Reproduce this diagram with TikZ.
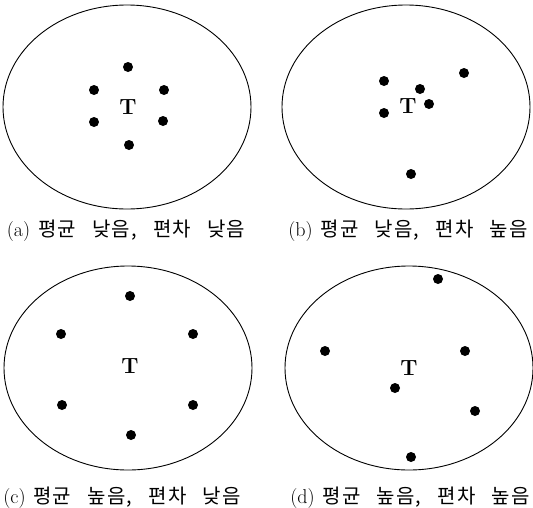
\documentclass[tikz,border=0pt]{standalone}
\usepackage{fontspec}
\newfontfamily\krfont[LetterSpace=5, WordSpace=3]{Noto Sans CJK KR}
\usetikzlibrary{positioning}
\tikzset{
  shot/.style={circle, fill=black, inner sep=0pt, minimum size=10pt},
  tmark/.style={font=\fontsize{22}{22}\selectfont\bfseries, inner sep=0pt},
  subcap/.style={font=\fontsize{20}{20}\selectfont, inner sep=0pt},
}
\newcommand{\board}[2]{%
  \draw[line width=0.9pt] (#1,#2) ellipse [x radius=124pt, y radius=102pt];
}

\begin{document}
\begin{tikzpicture}[x=1pt, y=-1pt]
  \useasboundingbox (0,0) rectangle (533,507);

  % (a) low mean, low spread
  \board{127}{107}
  \node[tmark] (ta) at (128,107) {T};
  \foreach \x/\y [count=\i] in {128/67, 94/90, 164/90, 94/122, 163/121, 129/145}
    \node[shot] (a\i) at (\x,\y) {};
  \node[subcap] (capa) at (126,231) {(a)\hspace{8pt}{\krfont 평균 낮음, 편차 낮음}};

  % (b) low mean, high spread
  \board{406}{107}
  \node[tmark] (tb) at (408,106) {T};
  \foreach \x/\y [count=\i] in {384/81, 420/89, 464/73, 384/113, 429/104, 411/174}
    \node[shot] (b\i) at (\x,\y) {};
  \node[subcap] (capb) at (408,231) {(b)\hspace{8pt}{\krfont 평균 낮음, 편차 높음}};

  % (c) high mean, low spread
  \board{128}{368}
  \node[tmark] (tc) at (130,366) {T};
  \foreach \x/\y [count=\i] in {130/296, 61/334, 193/334, 62/405, 193/405, 131/435}
    \node[shot] (c\i) at (\x,\y) {};
  \node[subcap] (capc) at (122,498) {(c)\hspace{8pt}{\krfont 평균 높음, 편차 낮음}};

  % (d) high mean, high spread
  \board{409}{368}
  \node[tmark] (td) at (409,368) {T};
  \foreach \x/\y [count=\i] in {438/279, 325/351, 465/351, 395/388, 475/411, 411/457}
    \node[shot] (d\i) at (\x,\y) {};
  \node[subcap] (capd) at (410,498) {(d)\hspace{8pt}{\krfont 평균 높음, 편차 높음}};
\end{tikzpicture}
\end{document}
